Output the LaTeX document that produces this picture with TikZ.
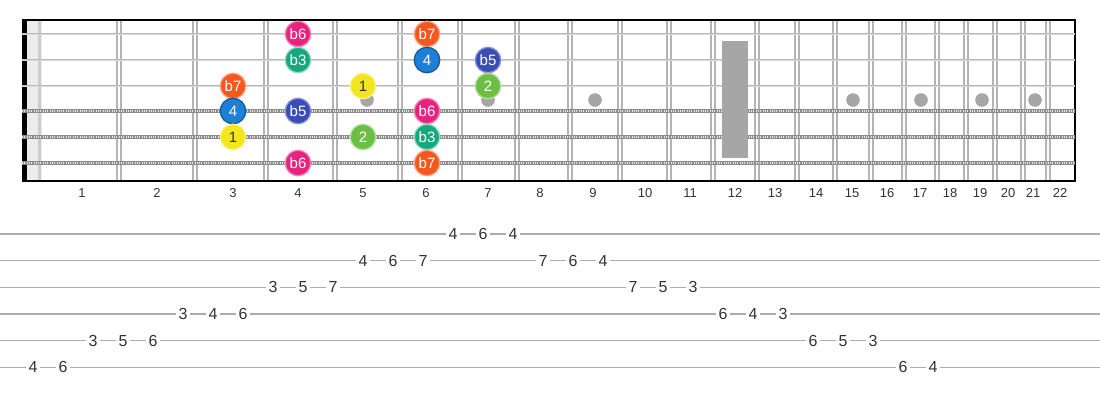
\documentclass[tikz,border=0pt]{standalone}
\usepackage{fontspec}
\setmainfont{Liberation Sans}
\usepackage{tikz}
\usetikzlibrary{calc}

\definecolor{pinkb6}{HTML}{E8227F}
\definecolor{orangeb7}{HTML}{F4581F}
\definecolor{tealb3}{HTML}{13A97B}
\definecolor{blue4}{HTML}{1E7FD8}
\definecolor{blueb5}{HTML}{3A4DB5}
\definecolor{yellow1}{HTML}{F4E61E}
\definecolor{green2}{HTML}{6DBE45}
\definecolor{fretgray}{HTML}{B4B4B4}
\definecolor{inlaygray}{HTML}{A6A6A6}
\definecolor{labelgray}{HTML}{333333}

\begin{document}
\begin{tikzpicture}[x=1pt,y=-1pt,
    plainstring/.style={draw=gray!55,line width=2.6pt},
    plaincore/.style={draw=gray!30,line width=0.8pt},
    woundbase/.style={draw=gray!90,line width=4.4pt},
    woundwire/.style={draw=white!80!gray,line width=2.2pt,dash pattern=on 1pt off 1.3pt},
    fretwire/.style={draw=fretgray,line width=1.5pt},
    tabline/.style={draw=gray!65,line width=1.5pt}]
    \useasboundingbox (0,0) rectangle (1100,400);

    % nut
    \fill[gray!15] (27,20) rectangle (42,181);
    \draw[gray!40,line width=3pt] (39.5,20) -- (39.5,181);
    \fill[black] (22,20) rectangle (27,181);

    % frets
    \foreach \x in {119,195,266,335,400,460,517,570,620,669,713,757,797,835,871,904,937,966,995,1023,1048} {
        \draw[fretwire] (\x-2,20) -- (\x-2,181);
        \draw[fretwire] (\x+2,20) -- (\x+2,181);
    }

    % border
    \draw[black,line width=2pt] (22,20) -- (1075,20);
    \draw[black,line width=2pt] (22,180.5) -- (1075,180.5);
    \draw[black,line width=2.2pt] (1075,19) -- (1075,181.5);

    % strings
    \foreach \y in {34,60,86} {
        \draw[plainstring] (22,\y) -- (1075,\y);
        \draw[plaincore] (22,\y) -- (1075,\y);
    }
    \foreach \y in {111,137,163} {
        \draw[woundbase] (22,\y) -- (1075,\y);
        \draw[woundwire] (22,\y) -- (1075,\y);
    }

    % inlays
    \foreach \x in {367,488,595,853,921,982,1035}
        \fill[inlaygray] (\x,100) circle[radius=6.8pt];
    \fill[inlaygray] (722,41) rectangle (748,158);

    % notes
    \begin{scope}[every node/.style={circle,minimum size=25.5pt,inner sep=0pt,
        line width=1.3pt,text=white,font=\fontsize{15}{15}\selectfont}]
        \node[fill=pinkb6,draw=pinkb6!55!white] (s1f4) at (298,34) {b6};
        \node[fill=orangeb7,draw=orangeb7!55!white] (s1f6) at (427,34) {b7};
        \node[fill=tealb3,draw=tealb3!45!white] (s2f4) at (298,60) {b3};
        \node[fill=blue4,draw=blue4!70!black] (s2f6) at (427,60) {4};
        \node[fill=blueb5,draw=blueb5!60!white] (s2f7) at (488,60) {b5};
        \node[fill=orangeb7,draw=orangeb7!55!white] (s3f3) at (233,86) {b7};
        \node[fill=yellow1,draw=yellow1!50!white,text=labelgray] (s3f5) at (363,86) {1};
        \node[fill=green2,draw=green2!50!white] (s3f7) at (488,86) {2};
        \node[fill=blue4,draw=blue4!70!black] (s4f3) at (233,111) {4};
        \node[fill=blueb5,draw=blueb5!60!white] (s4f4) at (298,111) {b5};
        \node[fill=pinkb6,draw=pinkb6!55!white] (s4f6) at (427,111) {b6};
        \node[fill=yellow1,draw=yellow1!50!white,text=labelgray] (s5f3) at (233,137) {1};
        \node[fill=green2,draw=green2!50!white] (s5f5) at (363,137) {2};
        \node[fill=tealb3,draw=tealb3!45!white] (s5f6) at (427,137) {b3};
        \node[fill=pinkb6,draw=pinkb6!55!white] (s6f4) at (298,163) {b6};
        \node[fill=orangeb7,draw=orangeb7!55!white] (s6f6) at (427,163) {b7};
    \end{scope}

    % fret numbers
    \begin{scope}[every node/.style={text=labelgray,font=\fontsize{13}{13}\selectfont}]
        \foreach \x/\n in {82/1,157/2,233/3,298/4,363/5,426/6,488/7,540/8,593/9,645/10,690/11,
                           735/12,775/13,816/14,852/15,887/16,920/17,950/18,980/19,1008/20,1033/21,1060/22}
            \node (n\n) at (\x,193) {\n};
    \end{scope}

    % tab
    \foreach \y in {234,260.7,287.3,314,340.7,367.3}
        \draw[tabline] (0,\y) -- (1100,\y);

    \begin{scope}[every node/.style={fill=white,inner xsep=2.5pt,inner ysep=1.5pt,text=labelgray,
        font=\fontsize{16}{16}\selectfont}]
        \foreach \s/\f [count=\k from 0] in {6/4,6/6,5/3,5/5,5/6,4/3,4/4,4/6,3/3,3/5,3/7,2/4,2/6,2/7,1/4,1/6,
                                            1/4,2/7,2/6,2/4,3/7,3/5,3/3,4/6,4/4,4/3,5/6,5/5,5/3,6/6,6/4}
            \node (t\k) at ({33+30*\k},{234+26.67*(\s-1)}) {\f};
    \end{scope}
\end{tikzpicture}
\end{document}
